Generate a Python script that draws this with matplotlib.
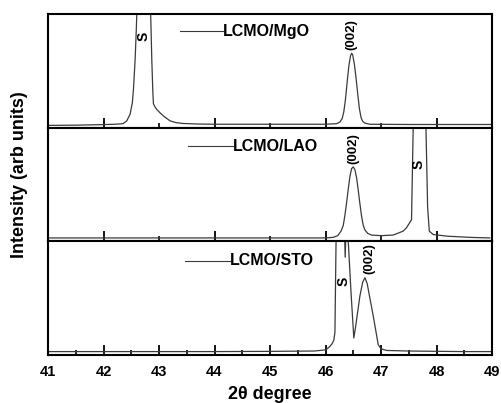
import numpy as np
import matplotlib.pyplot as plt
from matplotlib.ticker import MultipleLocator

plt.rcParams['font.family'] = ['Liberation Sans', 'DejaVu Sans']
plt.rcParams['font.weight'] = 'bold'

# LCMO/MgO  (top panel)
mgo_x = [41.0, 41.5, 42.0, 42.2, 42.35, 42.42, 42.48, 42.52, 42.54, 42.57, 42.59,
         42.60, 42.61, 42.84, 42.85, 42.87, 42.89, 42.90, 42.93, 42.97, 43.02,
         43.1, 43.2, 43.3, 43.43, 43.7, 44.0, 45.0, 46.0, 46.2, 46.26, 46.3,
         46.33, 46.36, 46.39, 46.42, 46.45, 46.47, 46.49, 46.52, 46.55, 46.58,
         46.61, 46.64, 46.67, 46.71, 46.8, 47.5, 48.5, 49.0]
mgo_y = [0.02, 0.022, 0.027, 0.03, 0.035, 0.06, 0.12, 0.22, 0.34, 0.6, 0.85,
         1.0, 1.3, 1.3, 1.0, 0.6, 0.3, 0.21, 0.18, 0.155, 0.13,
         0.095, 0.06, 0.045, 0.037, 0.032, 0.03, 0.03, 0.03, 0.035, 0.05, 0.08,
         0.14, 0.25, 0.40, 0.54, 0.63, 0.655, 0.64, 0.56, 0.44, 0.30,
         0.17, 0.09, 0.055, 0.04, 0.03, 0.028, 0.028, 0.028]

# LCMO/LAO  (middle panel)
lao_x = [41.0, 42.0, 43.0, 44.0, 45.0, 46.0, 46.14, 46.22, 46.28, 46.32, 46.35,
         46.38, 46.41, 46.44, 46.47, 46.50, 46.53, 46.56, 46.59, 46.62, 46.65,
         46.68, 46.71, 46.76, 46.83, 47.0, 47.22, 47.40, 47.46, 47.55, 47.58,
         47.59, 47.80, 47.81, 47.84, 47.87, 47.94, 48.2, 48.6, 48.96]
lao_y = [0.03, 0.03, 0.03, 0.03, 0.03, 0.03, 0.035, 0.05, 0.09, 0.14, 0.23,
         0.34, 0.46, 0.57, 0.64, 0.655, 0.63, 0.56, 0.45, 0.33, 0.22,
         0.14, 0.10, 0.07, 0.055, 0.05, 0.055, 0.09, 0.12, 0.19, 1.0,
         1.3, 1.3, 1.0, 0.3, 0.09, 0.06, 0.045, 0.035, 0.03]

# LCMO/STO  (bottom panel)
sto_x = [41.0, 42.0, 43.0, 44.0, 45.0, 45.8, 46.0, 46.07, 46.12, 46.15, 46.17,
         46.19, 46.20, 46.33, 46.355, 46.38, 46.40, 46.41, 46.46, 46.51, 46.54,
         46.58, 46.62, 46.67, 46.71, 46.75, 46.80, 46.85, 46.89, 46.95, 47.0,
         47.1, 47.5, 48.5, 49.0]
sto_y = [0.03, 0.03, 0.03, 0.03, 0.032, 0.035, 0.045, 0.07, 0.10, 0.13, 0.2,
         1.0, 1.3, 1.3, 0.86, 1.3, 1.3, 1.0, 0.55, 0.15, 0.24,
         0.38, 0.52, 0.64, 0.68, 0.63, 0.50, 0.37, 0.26, 0.09, 0.055,
         0.04, 0.035, 0.03, 0.03]

samples = ['LCMO/MgO', 'LCMO/LAO', 'LCMO/STO']
xs = [mgo_x, lao_x, sto_x]
ys = [mgo_y, lao_y, sto_y]

# label positions (x0 of line, x1 of line, y) and peak tags
legend_pos = [(43.38, 44.15, 0.85), (43.52, 44.33, 0.835), (43.47, 44.28, 0.83)]
peak_002 = [(46.47, 0.82), (46.50, 0.82), (46.79, 0.85)]
peak_s = [(42.72, 0.80), (47.68, 0.68), (46.33, 0.65)]

fig = plt.figure(figsize=(5.01, 4.03), dpi=100)
gs = fig.add_gridspec(3, 1, left=48/501, right=492/501, bottom=1-355/403,
                      top=1-14/403, hspace=0)

for i in range(3):
    ax = fig.add_subplot(gs[i])
    ax.plot(xs[i], ys[i], color='#3a3a3a', lw=0.9)
    ax.set_xlim(41, 49)
    ax.set_ylim(0, 1)
    ax.set_yticks([])
    for sp in ax.spines.values():
        sp.set_linewidth(1.5)
    x0, x1, yl = legend_pos[i]
    ax.plot([x0, x1], [yl, yl], color='#3a3a3a', lw=0.8)
    ax.text(x1, yl, samples[i], fontsize=11.5, fontweight='bold',
            va='center', ha='left')
    ax.text(peak_002[i][0], peak_002[i][1], '(002)', rotation=90, fontsize=9.5,
            fontweight='bold', ha='center', va='center')
    ax.text(peak_s[i][0], peak_s[i][1], 'S', rotation=90, fontsize=10,
            fontweight='bold', ha='center', va='center')
    if i < 2:
        ax.xaxis.set_major_locator(MultipleLocator(2))
        ax.xaxis.set_minor_locator(MultipleLocator(1))
        ax.tick_params(axis='x', which='both', direction='in', labelbottom=False)
    else:
        ax.xaxis.set_major_locator(MultipleLocator(1))
        ax.xaxis.set_minor_locator(MultipleLocator(0.5))
        ax.tick_params(axis='x', which='both', direction='in', pad=7,
                       labelsize=10.5)
        ax.set_xlabel('2θ degree', fontsize=13, fontweight='bold', labelpad=5)
    ax.tick_params(axis='x', which='major', length=7, width=1.3)
    ax.tick_params(axis='x', which='minor', length=3.5, width=1.2)

fig.text(20/501, 1-175/403, 'Intensity (arb units)', rotation=90, fontsize=13,
         fontweight='bold', ha='center', va='center')

fig.savefig('out.png', dpi=100)
